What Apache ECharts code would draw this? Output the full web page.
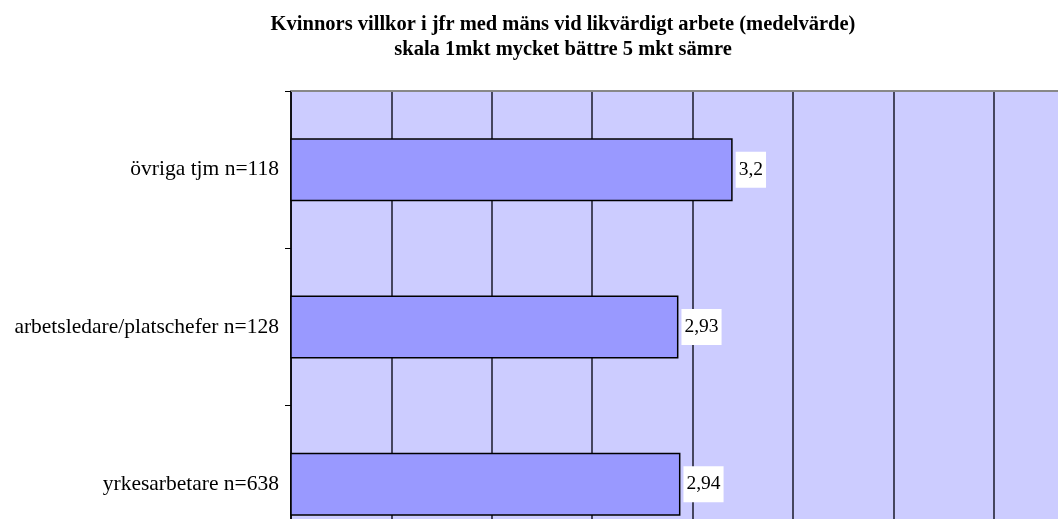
<!DOCTYPE html>
<html>
<head>
<meta charset="utf-8">
<script src="https://cdn.jsdelivr.net/npm/echarts@6/dist/echarts.min.js"></script>
<style>
  html, body { margin: 0; padding: 0; background: #ffffff; }
  #chart { width: 1058px; height: 519px; }
</style>
</head>
<body>
<div id="chart"></div>
<script>
// kategorier nerifrån och upp (ECharts ritar kategoriaxeln nerifrån)
const categories = ['yrkesarbetare n=638', 'arbetsledare/platschefer n=128', 'övriga tjm n=118']
const values = [2.94, 2.93, 3.2]

const titleLines = [
  'Kvinnors villkor i jfr med mäns vid likvärdigt arbete (medelvärde)',
  'skala 1mkt mycket bättre 5 mkt sämre',
]

const serif = '"Liberation Serif", "DejaVu Serif", serif'

const chart = echarts.init(document.getElementById('chart'))

chart.setOption({
  animation: false,
  title: {
    text: titleLines.join('\n'),
    left: 558,
    top: 7,
    textAlign: 'center',
    textStyle: {
      fontFamily: serif,
      fontWeight: 'bold',
      fontSize: 20.5,
      lineHeight: 25,
      color: '#000000',
    },
  },
  grid: {
    left: 291,
    top: 91,
    width: 803,
    height: 472,
    // diagrammet är beskuret i originalet, låt rutnätet gå utanför
    outerBoundsMode: 'none',
    containLabel: false,
    show: true,
    backgroundColor: '#CCCCFF',
    borderWidth: 0,
  },
  xAxis: {
    type: 'value',
    position: 'top',
    min: 1,
    max: 5,
    interval: 0.5,
    axisLine: { show: true, lineStyle: { color: '#888888', width: 2 } },
    axisTick: { show: false },
    axisLabel: { show: false },
    splitLine: { show: true, lineStyle: { color: '#1a1a2a', width: 1.5 } },
  },
  yAxis: {
    type: 'category',
    data: categories,
    axisLine: { show: true, lineStyle: { color: '#000000', width: 1.5 } },
    axisTick: { show: true, length: 6, lineStyle: { color: '#000000' } },
    axisLabel: {
      margin: 12,
      fontFamily: serif,
      fontSize: 21.5,
      color: '#000000',
    },
    splitLine: { show: false },
  },
  series: [
    {
      type: 'bar',
      data: values,
      barWidth: '40%',
      itemStyle: {
        color: '#9999FF',
        borderColor: '#000000',
        borderWidth: 1.5,
      },
      label: {
        show: true,
        position: 'right',
        distance: 3,
        formatter: (p) => String(p.value).replace('.', ','),
        backgroundColor: '#ffffff',
        padding: [8, 3],
        fontFamily: serif,
        fontSize: 19.5,
        color: '#000000',
      },
    },
  ],
})
</script>
</body>
</html>
